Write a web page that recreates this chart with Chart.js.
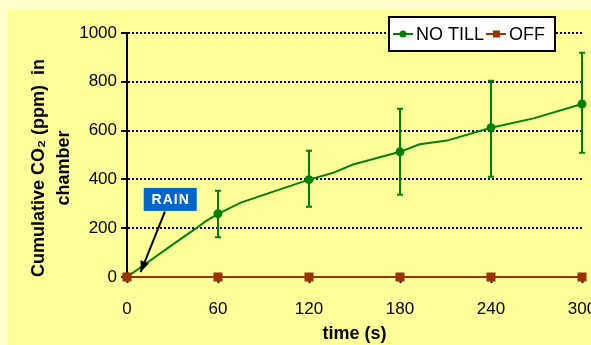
<!doctype html>
<html lang="en">
  <head>
    <meta charset="utf-8">
    <title>Cumulative CO2</title>
    <style>
      * {
        margin: 0;
        padding: 0;
      }
      body {
        width: 591px;
        height: 345px;
        background: #FFFFCC;
        overflow: hidden;
      }
      .chartBox {
        position: absolute;
        left: 8px;
        top: 9px;
        width: 583px;
        height: 336px;
        background: #FFFF99;
      }
    </style>
  </head>
  <body>
    <div class="chartBox">
      <canvas id="myChart" width="583" height="336"></canvas>
    </div>
    <script src="https://cdn.jsdelivr.net/npm/chart.js/dist/chart.umd.min.js"></script>
    <script>
    // data
    const times = [0, 35, 45, 52, 60, 75, 120, 135, 149, 180, 193, 211, 240, 268, 300];
    const noTill = [0, 154, 197, 229, 259, 305, 399, 425, 461, 513, 544, 559, 612, 650, 709];
    const markTimes = [0, 60, 120, 180, 240, 300];
    const off = [0, 0, 0, 0, 0, 0];
    const errTimes = [60, 120, 180, 240, 300];
    const errHigh = [353, 517, 690, 804, 919];
    const errLow = [163, 288, 337, 411, 509];
    const xTicks = [0, 60, 120, 180, 240, 300];
    const yTicks = [0, 200, 400, 600, 800, 1000];
    const seriesNames = ['NO TILL', 'OFF'];
    const rainLabel = 'RAIN';
    const rainTip = {t: 9, v: 20};
    const rainFrom = {t: 25, v: 268};
    const rainBox = {t: 28.5, v: 318};

    const green = '#008000';
    const brown = '#993300';
    const font = "'Liberation Sans', Arial, sans-serif";

    // error bars
    const errorBars = {
      id: 'errorBars',
      afterDatasetsDraw(chart) {
        const {ctx, scales: {x, y}} = chart;
        ctx.save();
        ctx.strokeStyle = green;
        ctx.lineWidth = 2;
        errTimes.forEach((t, i) => {
          const px = x.getPixelForValue(t);
          const hi = y.getPixelForValue(errHigh[i]);
          const lo = y.getPixelForValue(errLow[i]);
          ctx.beginPath();
          ctx.moveTo(px, hi); ctx.lineTo(px, lo);
          ctx.moveTo(px - 3, hi); ctx.lineTo(px + 3, hi);
          ctx.moveTo(px - 3, lo); ctx.lineTo(px + 3, lo);
          ctx.stroke();
        });
        ctx.restore();
      }
    };

    // y title, legend, rain note
    const extras = {
      id: 'extras',
      afterDraw(chart) {
        const {ctx, chartArea: a, scales: {x, y}} = chart;
        ctx.save();

        // y axis title
        ctx.fillStyle = '#000';
        ctx.font = 'bold 18px ' + font;
        ctx.textAlign = 'center';
        ctx.textBaseline = 'middle';
        const cy = (a.top + a.bottom) / 2 + 13;
        ctx.translate(a.left - 88, cy);
        ctx.rotate(-Math.PI / 2);
        ctx.fillText('Cumulative CO\u2082 (ppm)  in', 0, 0);
        ctx.fillText('chamber', 0, 25);
        ctx.setTransform(1, 0, 0, 1, 0, 0);

        // legend
        ctx.font = '18px ' + font;
        ctx.textAlign = 'left';
        const w1 = ctx.measureText(seriesNames[0]).width;
        const w2 = ctx.measureText(seriesNames[1]).width;
        const bw = 4 + 20 + 3 + w1 + 2 + 20 + 3 + w2 + 10;
        const bx = a.right - 27 - bw;
        const by = a.top - 16;
        ctx.fillStyle = '#fff';
        ctx.fillRect(bx, by, bw, 34);
        ctx.strokeStyle = '#000';
        ctx.lineWidth = 2;
        ctx.strokeRect(bx, by, bw, 34);
        const my = by + 17;
        let lx = bx + 4;
        ctx.strokeStyle = green;
        ctx.beginPath(); ctx.moveTo(lx, my); ctx.lineTo(lx + 20, my); ctx.stroke();
        ctx.fillStyle = green;
        ctx.beginPath(); ctx.arc(lx + 10, my, 3.5, 0, Math.PI * 2); ctx.fill();
        lx += 23;
        ctx.fillStyle = '#000';
        ctx.fillText(seriesNames[0], lx, my + 1);
        lx += w1 + 2;
        ctx.strokeStyle = brown;
        ctx.beginPath(); ctx.moveTo(lx, my); ctx.lineTo(lx + 20, my); ctx.stroke();
        ctx.fillStyle = brown;
        ctx.fillRect(lx + 7, my - 3.5, 7, 7);
        lx += 23;
        ctx.fillStyle = '#000';
        ctx.fillText(seriesNames[1], lx, my + 1);

        // rain note
        const tx = x.getPixelForValue(rainTip.t), ty = y.getPixelForValue(rainTip.v);
        const fx = x.getPixelForValue(rainFrom.t), fy = y.getPixelForValue(rainFrom.v);
        ctx.strokeStyle = '#000';
        ctx.lineWidth = 2;
        ctx.beginPath(); ctx.moveTo(fx, fy); ctx.lineTo(tx, ty); ctx.stroke();
        const ang = Math.atan2(ty - fy, tx - fx);
        ctx.fillStyle = '#000';
        ctx.beginPath();
        ctx.moveTo(tx, ty);
        ctx.lineTo(tx - 11 * Math.cos(ang) + 4.5 * Math.sin(ang), ty - 11 * Math.sin(ang) - 4.5 * Math.cos(ang));
        ctx.lineTo(tx - 11 * Math.cos(ang) - 4.5 * Math.sin(ang), ty - 11 * Math.sin(ang) + 4.5 * Math.cos(ang));
        ctx.closePath();
        ctx.fill();

        const rx = x.getPixelForValue(rainBox.t), ry = y.getPixelForValue(rainBox.v);
        ctx.fillStyle = '#0066CC';
        ctx.fillRect(rx - 26.5, ry - 11.5, 53, 23);
        ctx.fillStyle = '#fff';
        ctx.font = 'bold 14px ' + font;
        ctx.letterSpacing = '1px';
        ctx.textAlign = 'center';
        ctx.fillText(rainLabel, rx + 0.5, ry + 1);
        ctx.restore();
      }
    };

    const data = {
      datasets: [{
        label: seriesNames[0],
        data: times.map((t, i) => ({x: t, y: noTill[i]})),
        borderColor: green,
        backgroundColor: green,
        borderWidth: 2,
        pointRadius: c => markTimes.includes(times[c.dataIndex]) ? 3.5 : 0,
        pointStyle: 'circle',
        tension: 0,
        order: 2,
        clip: 12
      }, {
        label: seriesNames[1],
        data: markTimes.map((t, i) => ({x: t, y: off[i]})),
        borderColor: brown,
        backgroundColor: brown,
        borderWidth: 2,
        pointRadius: 5,
        pointStyle: 'rect',
        order: 1,
        clip: 12
      }]
    };

    const config = {
      type: 'line',
      data,
      plugins: [errorBars, extras],
      options: {
        responsive: false,
        animation: false,
        layout: {padding: {top: 24, right: 9, left: 0, bottom: 0}},
        plugins: {
          legend: {display: false},
          tooltip: {enabled: false}
        },
        scales: {
          x: {
            type: 'linear',
            min: 0,
            max: 300,
            afterBuildTicks: s => { s.ticks = xTicks.map(v => ({value: v})); },
            afterFit: s => { s.paddingRight = 0; s.paddingLeft = 0; s.height = 68; },
            ticks: {color: '#000', font: {family: font, size: 17}, padding: 16, maxRotation: 0, callback: v => String(v)},
            grid: {drawOnChartArea: false, drawTicks: true, tickLength: 6, tickColor: '#000', tickWidth: 2},
            border: {display: true, color: '#000', width: 2},
            title: {display: true, text: 'time (s)', color: '#000', font: {family: font, size: 18, weight: 'bold'}, padding: 0}
          },
          y: {
            min: 0,
            max: 1000,
            afterBuildTicks: s => { s.ticks = yTicks.map(v => ({value: v})); },
            afterFit: s => { s.width = 119; s.paddingTop = 0; s.paddingBottom = 0; },
            ticks: {color: '#000', font: {family: font, size: 17}, padding: 4, callback: v => String(v)},
            grid: {
              color: c => c.tick && c.tick.value === 0 ? 'rgba(0,0,0,0)' : '#000',
              lineWidth: 2,
              drawTicks: true,
              tickLength: 6,
              tickColor: '#000',
              tickWidth: 2,
              tickBorderDash: []
            },
            border: {display: true, color: '#000', width: 2, dash: [2, 2]}
          }
        }
      }
    };

    const myChart = new Chart(document.getElementById('myChart'), config);
    </script>
  </body>
</html>
